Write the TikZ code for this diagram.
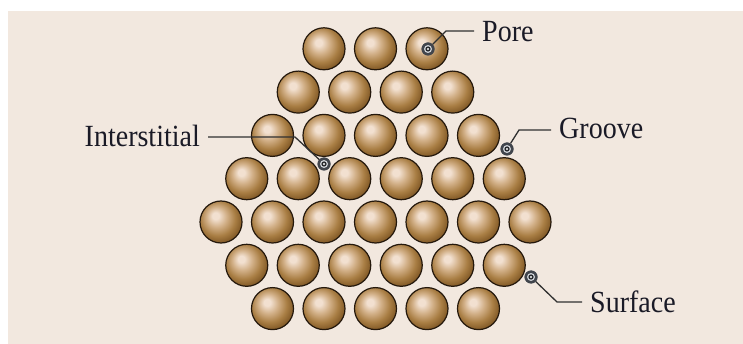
\documentclass[tikz,border=0pt]{standalone}
\usepackage{graphicx}
\usepackage{fontspec}
\setmainfont{Liberation Serif}

% colours
\definecolor{paper}{HTML}{F2E8DF}
\definecolor{beadhi}{HTML}{F2E0D0}
\definecolor{beadlt}{HTML}{D2B088}
\definecolor{beadmid}{HTML}{A97E44}
\definecolor{beaddk}{HTML}{7E5624}
\definecolor{beadrim}{HTML}{4E3414}
\definecolor{beadline}{HTML}{24180C}
\definecolor{mkdark}{HTML}{41454C}
\definecolor{mklight}{HTML}{D0D3D8}
\definecolor{mkcore}{HTML}{25272B}
\definecolor{leadcol}{HTML}{303030}
\definecolor{txtcol}{HTML}{1A1A26}

% spherical bead, highlight towards the upper left
\pgfdeclareradialshading{bead}{\pgfpoint{-7bp}{8bp}}{%
  color(0bp)=(beadhi); color(4bp)=(beadhi);
  color(12bp)=(beadlt); color(21bp)=(beadmid);
  color(29bp)=(beaddk); color(35bp)=(beadrim); color(50bp)=(beadrim)}

\tikzset{
  bead/.style={circle, inner sep=0pt, minimum size=42pt, shading=bead,
    draw=beadline, line width=1.2pt},
  site/.style={circle, inner sep=0pt, minimum size=13pt, fill=mkdark,
    path picture={
      \fill[mklight] (path picture bounding box.center) circle (4pt);
      \fill[mkcore] (path picture bounding box.center) circle (2.6pt);
      \fill[white] (path picture bounding box.center) circle (1.1pt);}},
  leader/.style={draw=leadcol, line width=1.3pt},
  tag/.style={inner xsep=8pt, inner ysep=0pt, anchor=base west, text=txtcol,
    font=\fontsize{28}{30}\selectfont}
}

\begin{document}
\begin{tikzpicture}[x=1pt, y=-1pt]
  \useasboundingbox (0,0) rectangle (743,344);
  \fill[white] (0,0) rectangle (743,344);
  \fill[paper] (8,11) rectangle (743,344);

  % hexagonal packing of beads, 3-4-5-6-7-6-5 per row
  \foreach \r/\n in {1/3,2/4,3/5,4/6,5/7,6/6,7/5} {
    \foreach \j in {1,...,\n} {
      \node[bead] (b\r-\j) at ({375.5+(\j-(\n+1)/2)*51.5}, {222+(\r-5)*43.3}) {};
    }
  }

  % defect sites
  \node[site] (sPore) at (428,49) {};
  \node[site] (sInt) at (324,164) {};
  \node[site] (sGroove) at (507,149) {};
  \node[site] (sSurf) at (531,277) {};

  % labels
  \node[tag] (tPore) at (474,42) {\scalebox{1}[1.1]{Pore}};
  \node[tag, anchor=base east] (tInt) at (208,147) {\scalebox{1}[1.1]{Interstitial}};
  \node[tag] (tGroove) at (551,139) {\scalebox{1}[1.1]{Groove}};
  \node[tag] (tSurf) at (582,312) {\scalebox{1}[1.1]{Surface}};

  % leader bends
  \coordinate (kPore) at (446,31);
  \coordinate (kInt) at (295,137);
  \coordinate (kGroove) at (519,130);
  \coordinate (kSurf) at (557,302);

  % leaders
  \draw[leader] (sPore) -- (kPore) -- (kPore -| tPore.west);
  \draw[leader] (tInt.east |- kInt) -- (kInt) -- (sInt);
  \draw[leader] (sGroove) -- (kGroove) -- (kGroove -| tGroove.west);
  \draw[leader] (sSurf) -- (kSurf) -- (kSurf -| tSurf.west);

  % redraw sites over their leaders
  \node[site] at (sPore) {};
  \node[site] at (sInt) {};
  \node[site] at (sGroove) {};
  \node[site] at (sSurf) {};
\end{tikzpicture}
\end{document}
